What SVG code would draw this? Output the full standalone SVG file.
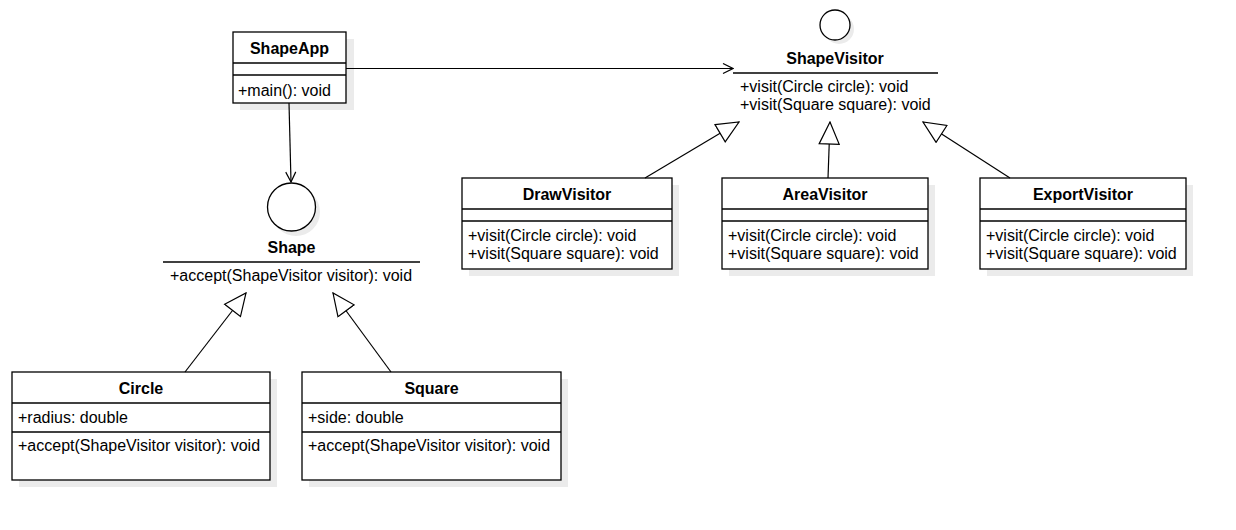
<svg xmlns="http://www.w3.org/2000/svg" width="1236" height="530" viewBox="0 0 1236 530">
<defs>
<marker id="open" viewBox="0 0 12 12" refX="11" refY="6" markerWidth="12" markerHeight="12" markerUnits="userSpaceOnUse" orient="auto">
<path d="M1,1 L11,6 L1,11" fill="none" stroke="#000" stroke-width="1.2"/>
</marker>
<marker id="tri" viewBox="0 0 24 22" refX="23" refY="11" markerWidth="24" markerHeight="22" markerUnits="userSpaceOnUse" orient="auto">
<path d="M1,1 L23,11 L1,21 Z" fill="#fff" stroke="#000" stroke-width="1.2"/>
</marker>
</defs>
<style>
.box{fill:#fff;stroke:#000;stroke-width:1.3}
.sh{fill:#ebebeb;stroke:none}
.ln{stroke:#000;stroke-width:1.3;fill:none}
.t{font-family:"Liberation Sans",Arial,sans-serif;font-size:16px;fill:#000}
.b{font-weight:bold;text-anchor:middle}
.c{stroke:#000;stroke-width:1.2;fill:none}
</style>
<rect width="1236" height="530" fill="#fff"/>

<g id="ShapeApp">
<rect class="sh" x="240" y="39" width="114" height="71"/>
<rect class="box" x="233" y="32" width="113" height="71"/>
<line class="ln" x1="233" y1="63" x2="346" y2="63"/>
<line class="ln" x1="233" y1="75" x2="346" y2="75"/>
<text class="t b" x="289.5" y="54">ShapeApp</text>
<text class="t" x="238" y="96">+main(): void</text>
</g>

<g id="ShapeVisitor">
<circle class="sh" cx="839" cy="29" r="15"/>
<circle cx="835" cy="25" r="15" fill="#fff" stroke="#000" stroke-width="1.3"/>
<text class="t b" x="835" y="64">ShapeVisitor</text>
<line class="ln" x1="733" y1="73" x2="938" y2="73"/>
<text class="t" x="740" y="92">+visit(Circle circle): void</text>
<text class="t" x="740" y="110">+visit(Square square): void</text>
</g>

<g id="Shape">
<circle class="sh" cx="296" cy="212" r="24"/>
<circle cx="291.5" cy="207" r="24" fill="#fff" stroke="#000" stroke-width="1.3"/>
<text class="t b" x="291.5" y="253">Shape</text>
<line class="ln" x1="163" y1="262" x2="420" y2="262"/>
<text class="t" x="170" y="281">+accept(ShapeVisitor visitor): void</text>
</g>

<g id="DrawVisitor">
<rect class="sh" x="469" y="185" width="210" height="91"/>
<rect class="box" x="462" y="178" width="210" height="91"/>
<line class="ln" x1="462" y1="209" x2="672" y2="209"/>
<line class="ln" x1="462" y1="221" x2="672" y2="221"/>
<text class="t b" x="567" y="200">DrawVisitor</text>
<text class="t" x="468" y="241">+visit(Circle circle): void</text>
<text class="t" x="468" y="259">+visit(Square square): void</text>
</g>

<g id="AreaVisitor">
<rect class="sh" x="729" y="185" width="206" height="91"/>
<rect class="box" x="722" y="178" width="206" height="91"/>
<line class="ln" x1="722" y1="209" x2="928" y2="209"/>
<line class="ln" x1="722" y1="221" x2="928" y2="221"/>
<text class="t b" x="825" y="200">AreaVisitor</text>
<text class="t" x="728" y="241">+visit(Circle circle): void</text>
<text class="t" x="728" y="259">+visit(Square square): void</text>
</g>

<g id="ExportVisitor">
<rect class="sh" x="987" y="185" width="206" height="91"/>
<rect class="box" x="980" y="178" width="206" height="91"/>
<line class="ln" x1="980" y1="209" x2="1186" y2="209"/>
<line class="ln" x1="980" y1="221" x2="1186" y2="221"/>
<text class="t b" x="1083" y="200">ExportVisitor</text>
<text class="t" x="986" y="241">+visit(Circle circle): void</text>
<text class="t" x="986" y="259">+visit(Square square): void</text>
</g>

<g id="Circle">
<rect class="sh" x="19" y="379" width="258" height="108"/>
<rect class="box" x="12" y="372" width="258" height="108"/>
<line class="ln" x1="12" y1="403" x2="270" y2="403"/>
<line class="ln" x1="12" y1="432" x2="270" y2="432"/>
<text class="t b" x="141" y="394">Circle</text>
<text class="t" x="18" y="423">+radius: double</text>
<text class="t" x="18" y="451">+accept(ShapeVisitor visitor): void</text>
</g>

<g id="Square">
<rect class="sh" x="309" y="379" width="259" height="108"/>
<rect class="box" x="302" y="372" width="259" height="108"/>
<line class="ln" x1="302" y1="403" x2="561" y2="403"/>
<line class="ln" x1="302" y1="432" x2="561" y2="432"/>
<text class="t b" x="431.5" y="394">Square</text>
<text class="t" x="308" y="423">+side: double</text>
<text class="t" x="308" y="451">+accept(ShapeVisitor visitor): void</text>
</g>

<g id="connectors">
<line class="c" x1="346" y1="68.5" x2="733" y2="68.5" marker-end="url(#open)"/>
<line class="c" x1="289" y1="103" x2="291" y2="182" marker-end="url(#open)"/>
<line class="c" x1="645" y1="178" x2="739" y2="122" marker-end="url(#tri)"/>
<line class="c" x1="828" y1="178" x2="830" y2="122" marker-end="url(#tri)"/>
<line class="c" x1="1010" y1="178" x2="923" y2="122" marker-end="url(#tri)"/>
<line class="c" x1="185" y1="372" x2="246" y2="293" marker-end="url(#tri)"/>
<line class="c" x1="391" y1="372" x2="333" y2="293" marker-end="url(#tri)"/>
</g>
</svg>
